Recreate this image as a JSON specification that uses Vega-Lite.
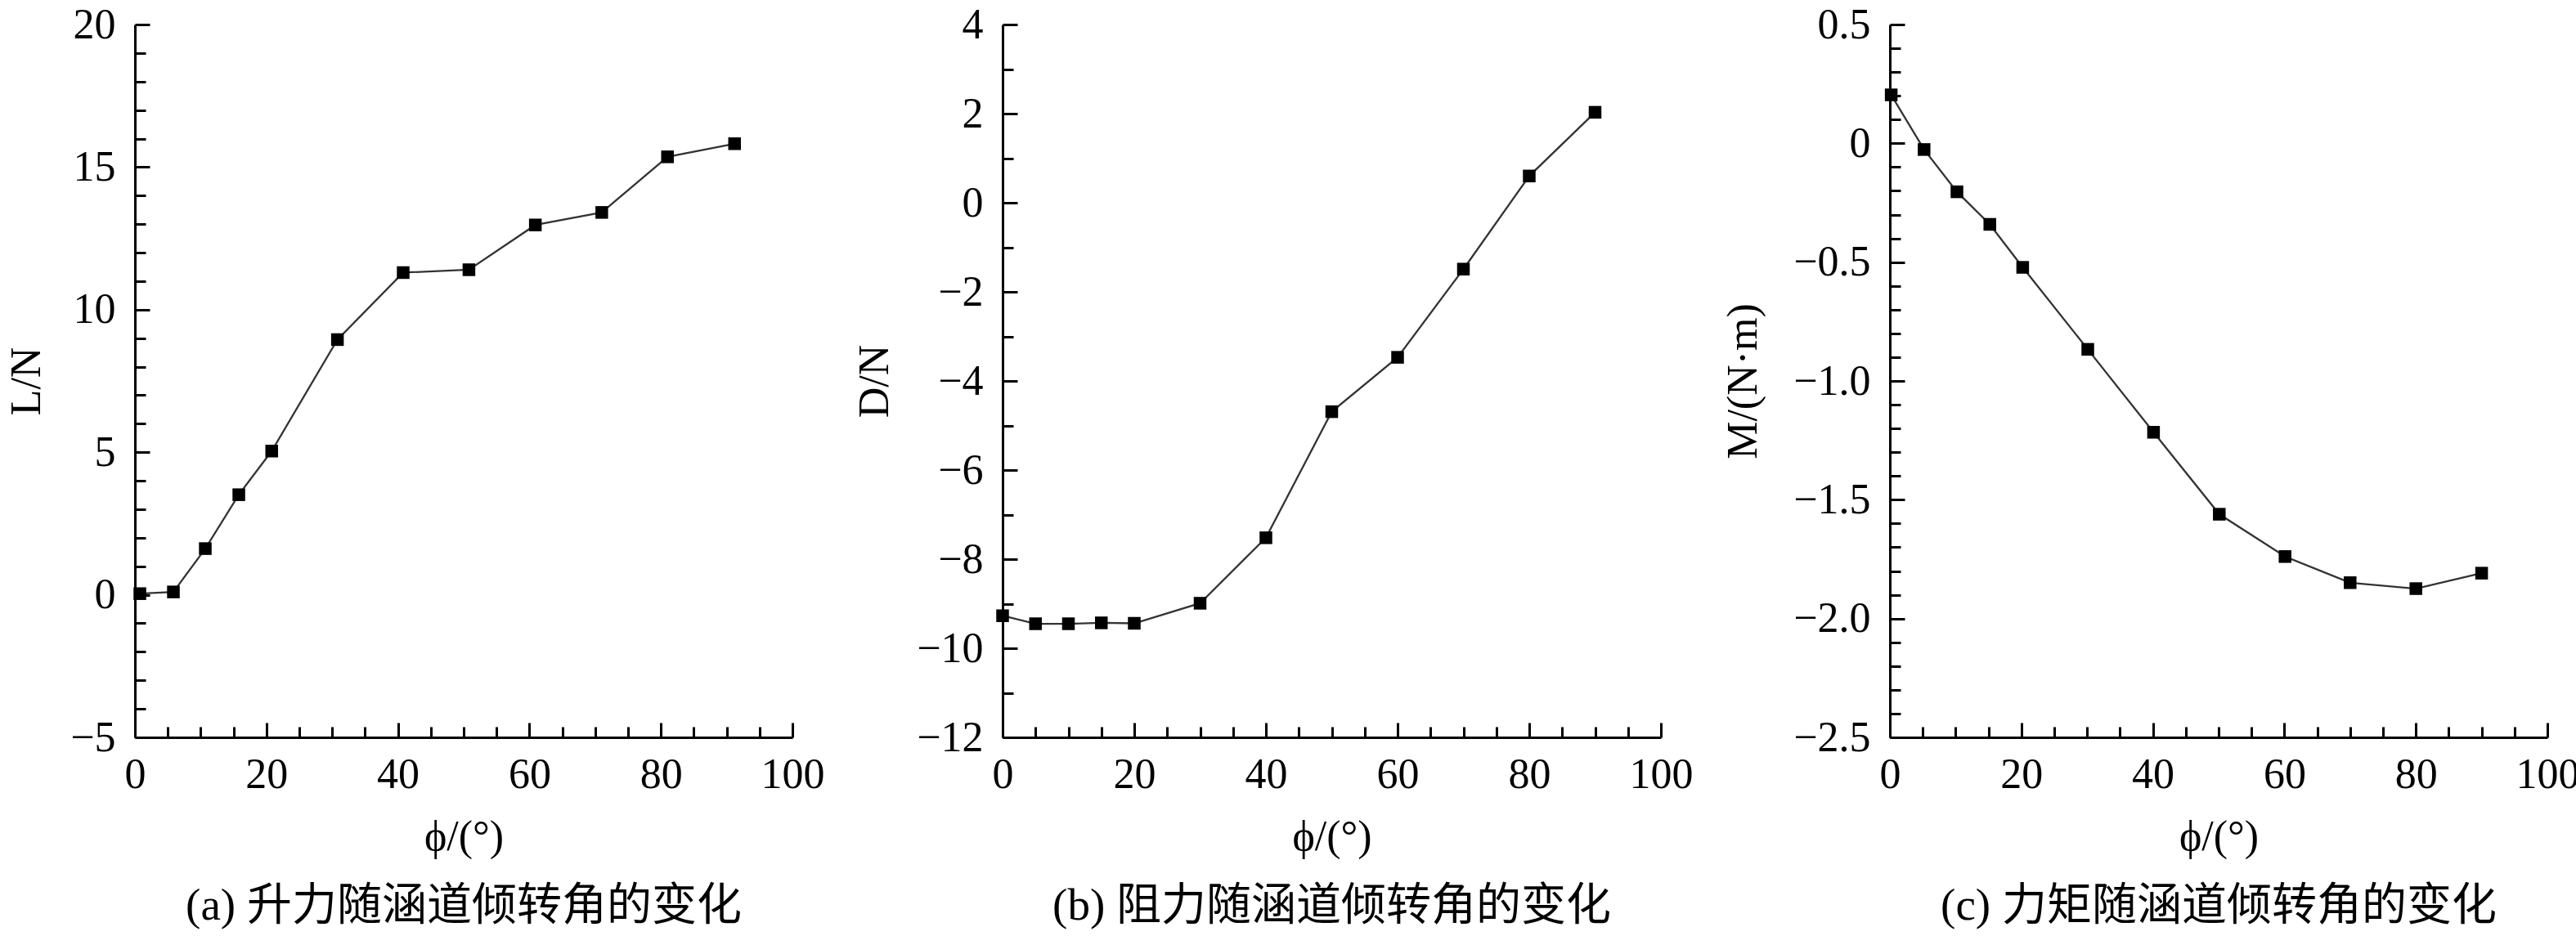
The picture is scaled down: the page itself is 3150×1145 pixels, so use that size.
{
  "$schema": "https://vega.github.io/schema/vega-lite/v6.json",
  "background": "white",
  "padding": {"left": 6, "top": 4, "right": 3, "bottom": 3},
  "spacing": 35,
  "config": {
    "view": {"stroke": null},
    "font": "Liberation Serif",
    "axis": {
      "grid": false,
      "domainColor": "black",
      "domainWidth": 3,
      "tickColor": "black",
      "tickWidth": 3,
      "labelFont": "Liberation Serif",
      "labelFontSize": 52,
      "labelColor": "black",
      "labelFlush": false,
      "labelOverlap": false,
      "titleFont": "Liberation Serif",
      "titleFontSize": 52,
      "titleFontWeight": "normal",
      "titleColor": "black"
    },
    "axisX": {"titlePadding": 20, "labelPadding": 38},
    "axisY": {"titlePadding": 30, "labelPadding": 42},
    "title": {
      "orient": "bottom",
      "anchor": "middle",
      "frame": "group",
      "font": "Liberation Serif, Noto Sans CJK SC",
      "fontSize": 55,
      "fontWeight": "normal",
      "color": "black",
      "offset": 33
    }
  },
  "datasets": {
    "lift": [
      {"phi": 0.75, "L": 0.04},
      {"phi": 5.85, "L": 0.1},
      {"phi": 10.7, "L": 1.62},
      {"phi": 15.8, "L": 3.51},
      {"phi": 20.8, "L": 5.04},
      {"phi": 30.8, "L": 8.95},
      {"phi": 40.8, "L": 11.3},
      {"phi": 50.8, "L": 11.4},
      {"phi": 60.9, "L": 12.97},
      {"phi": 71, "L": 13.41},
      {"phi": 81, "L": 15.36},
      {"phi": 91.2, "L": 15.82}
    ],
    "drag": [
      {"phi": 0, "D": -9.27},
      {"phi": 5, "D": -9.45},
      {"phi": 10, "D": -9.45},
      {"phi": 15, "D": -9.43},
      {"phi": 20, "D": -9.44},
      {"phi": 30, "D": -8.99},
      {"phi": 40, "D": -7.52},
      {"phi": 50, "D": -4.69},
      {"phi": 60, "D": -3.47},
      {"phi": 70, "D": -1.49},
      {"phi": 80, "D": 0.6},
      {"phi": 90, "D": 2.03}
    ],
    "moment": [
      {"phi": 0.2, "M": 0.204},
      {"phi": 5.2, "M": -0.026},
      {"phi": 10.2, "M": -0.204},
      {"phi": 15.2, "M": -0.341},
      {"phi": 20.2, "M": -0.522},
      {"phi": 30.1, "M": -0.867},
      {"phi": 40.1, "M": -1.216},
      {"phi": 50.1, "M": -1.561},
      {"phi": 60.1, "M": -1.739},
      {"phi": 70, "M": -1.849},
      {"phi": 80, "M": -1.874},
      {"phi": 90, "M": -1.809}
    ]
  },
  "hconcat": [
    {
      "width": 804,
      "height": 872,
      "title": "(a) 升力随涵道倾转角的变化",
      "data": {"name": "lift"},
      "encoding": {
        "x": {
          "field": "phi",
          "type": "quantitative",
          "scale": {"domain": [0, 100], "nice": false},
          "axis": {
            "title": "ϕ/(°)",
            "values": [0, 5, 10, 15, 20, 25, 30, 35, 40, 45, 50, 55, 60, 65, 70, 75, 80, 85, 90, 95, 100],
            "tickSize": {"condition": {"test": "datum.value % 20 === 0", "value": -18}, "value": -13},
            "labelExpr": "datum.value % 20 === 0 ? datum.label : ''"
          }
        },
        "y": {
          "field": "L",
          "type": "quantitative",
          "scale": {"domain": [-5, 20], "nice": false, "zero": false},
          "axis": {
            "title": "L/N",
            "titlePadding": 26,
            "values": [-5, -4, -3, -2, -1, 0, 1, 2, 3, 4, 5, 6, 7, 8, 9, 10, 11, 12, 13, 14, 15, 16, 17, 18, 19, 20],
            "tickSize": {"condition": {"test": "datum.value % 5 === 0", "value": -18}, "value": -13},
            "labelExpr": "datum.value % 5 === 0 ? datum.label : ''"
          }
        }
      },
      "layer": [
        {"mark": {"type": "line", "color": "#333333", "strokeWidth": 2.3}},
        {"mark": {"type": "point", "shape": "square", "filled": true, "color": "black", "size": 240, "opacity": 1}}
      ]
    },
    {
      "width": 805,
      "height": 872,
      "title": "(b) 阻力随涵道倾转角的变化",
      "data": {"name": "drag"},
      "encoding": {
        "x": {
          "field": "phi",
          "type": "quantitative",
          "scale": {"domain": [0, 100], "nice": false},
          "axis": {
            "title": "ϕ/(°)",
            "values": [0, 5, 10, 15, 20, 25, 30, 35, 40, 45, 50, 55, 60, 65, 70, 75, 80, 85, 90, 95, 100],
            "tickSize": {"condition": {"test": "datum.value % 20 === 0", "value": -18}, "value": -13},
            "labelExpr": "datum.value % 20 === 0 ? datum.label : ''"
          }
        },
        "y": {
          "field": "D",
          "type": "quantitative",
          "scale": {"domain": [-12, 4], "nice": false, "zero": false},
          "axis": {
            "title": "D/N",
            "titlePadding": 24,
            "values": [-12, -11, -10, -9, -8, -7, -6, -5, -4, -3, -2, -1, 0, 1, 2, 3, 4],
            "tickSize": {"condition": {"test": "datum.value % 2 === 0", "value": -18}, "value": -13},
            "labelExpr": "datum.value % 2 === 0 ? datum.label : ''"
          }
        }
      },
      "layer": [
        {"mark": {"type": "line", "color": "#333333", "strokeWidth": 2.3}},
        {"mark": {"type": "point", "shape": "square", "filled": true, "color": "black", "size": 240, "opacity": 1}}
      ]
    },
    {
      "width": 804,
      "height": 872,
      "title": "(c) 力矩随涵道倾转角的变化",
      "data": {"name": "moment"},
      "encoding": {
        "x": {
          "field": "phi",
          "type": "quantitative",
          "scale": {"domain": [0, 100], "nice": false},
          "axis": {
            "title": "ϕ/(°)",
            "values": [0, 5, 10, 15, 20, 25, 30, 35, 40, 45, 50, 55, 60, 65, 70, 75, 80, 85, 90, 95, 100],
            "tickSize": {"condition": {"test": "datum.value % 20 === 0", "value": -18}, "value": -13},
            "labelExpr": "datum.value % 20 === 0 ? datum.label : ''"
          }
        },
        "y": {
          "field": "M",
          "type": "quantitative",
          "scale": {"domain": [-2.5, 0.5], "nice": false, "zero": false},
          "axis": {
            "title": "M/(N·m)",
            "titlePadding": 34,
            "values": [-2.5, -2.4, -2.3, -2.2, -2.1, -2, -1.9, -1.8, -1.7, -1.6, -1.5, -1.4, -1.3, -1.2, -1.1, -1, -0.9, -0.8, -0.7, -0.6, -0.5, -0.4, -0.3, -0.2, -0.1, 0, 0.1, 0.2, 0.3, 0.4, 0.5],
            "tickSize": {"condition": {"test": "abs(datum.value * 2 - round(datum.value * 2)) < 0.001", "value": -18}, "value": -13},
            "labelExpr": "abs(datum.value * 2 - round(datum.value * 2)) < 0.001 ? (datum.value === 0 ? '0' : format(datum.value, '.1f')) : ''"
          }
        }
      },
      "layer": [
        {"mark": {"type": "line", "color": "#333333", "strokeWidth": 2.3}},
        {"mark": {"type": "point", "shape": "square", "filled": true, "color": "black", "size": 240, "opacity": 1}}
      ]
    }
  ]
}
